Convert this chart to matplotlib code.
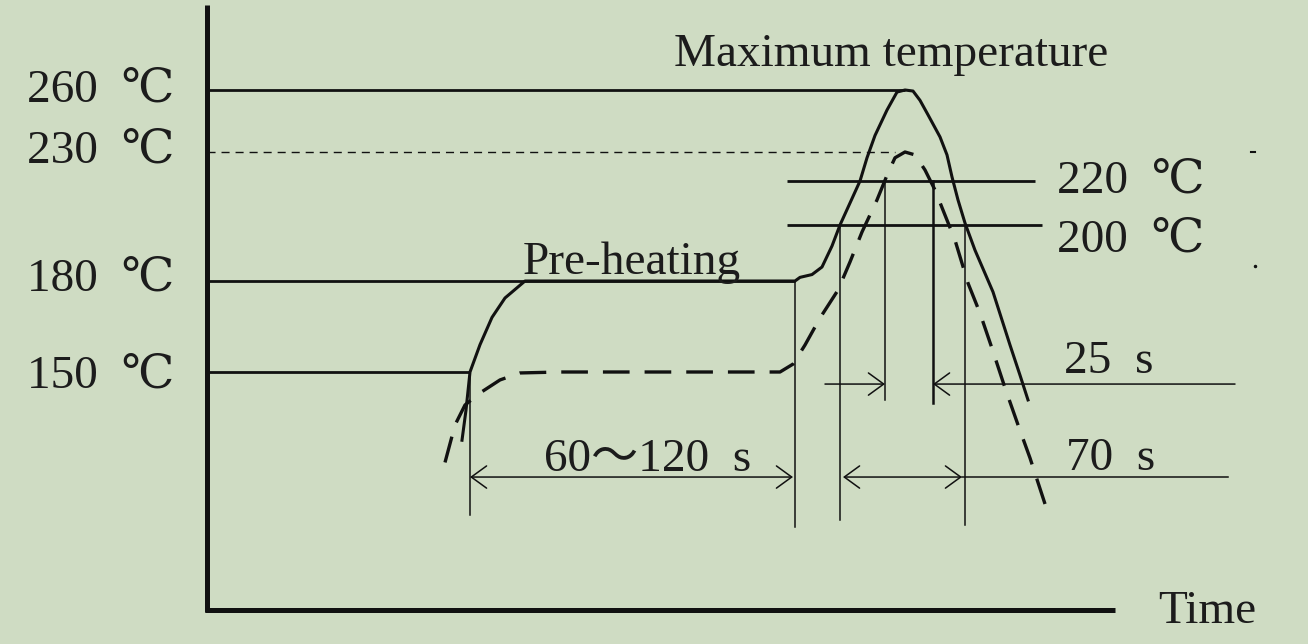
import matplotlib.pyplot as plt
import numpy as np
from matplotlib.patches import FancyArrowPatch
from matplotlib.transforms import offset_copy

# temperature scale of the sketch is not linear: knots (deg C -> image row)
temp_knots = [-30, 0, 150, 180, 200, 220, 230, 260, 320]
row_knots = [657.6, 610, 372, 281, 225, 181, 152, 90, -34]

# upper (solid) profile: time position, temperature
solid_x = [462, 466, 470, 480, 492, 505, 525, 795, 800, 812, 822, 832, 840, 850, 860, 867, 875, 887,
           897, 905, 913, 920, 928, 940, 947, 952, 958, 965, 975, 993, 1010, 1020, 1028]
solid_t = [107, 126, 150, 159, 168, 174.4, 180, 180, 181.3, 182.3, 185, 192.5, 200, 210, 220, 228, 238, 250.3,
           259, 260, 259.5, 255, 248, 237.3, 229, 221.4, 211.4, 200.9, 191, 176.4, 158.9, 148, 132.4]

# lower (dashed) profile
dash_x = [445, 455, 465, 480, 500, 520, 560, 780, 793, 805, 820, 838, 850, 862, 877, 888, 895, 905,
          915, 925, 935, 945, 955, 968, 980, 992, 1005, 1018, 1030, 1047]
dash_t = [93, 116.6, 129.2, 136.8, 145, 149.4, 150, 150, 152.6, 158.9, 167.8, 177, 186.8, 197.5, 211.4, 222.8, 228, 230,
          229, 223.8, 215.9, 204.5, 194.6, 179.3, 169.4, 157.8, 140, 116.7, 95.8, 63]

# reference levels: temperature, x start, x end
levels = [260, 180, 150, 220, 200]
level_x0 = [207, 207, 207, 787, 787]
level_x1 = [905, 795, 470, 1035, 1042]
peak_limit = 230
peak_x = [207, 895]

# vertical markers: x, top temperature, bottom temperature, width
vlines_x = [470, 795, 840, 885, 933, 965]
vlines_top = [150, 180, 200, 220, 220, 200]
vlines_bot = [59.9, 52.3, 56.7, 132.4, 130.5, 53.5]
vlines_lw = [1.1, 1.1, 1.1, 1.1, 1.8, 1.1]

temp_labels = ['260  ℃', '230  ℃', '180  ℃', '150  ℃']
temp_label_t = [262.4, 232.9, 182.3, 150.2]
right_labels = ['220  ℃', '200  ℃']
right_label_t = [221.7, 196.4]

bg = '#cfdcc3'
ink = '#111111'
txt = '#1c1c1c'
fam = ['Liberation Serif', 'DejaVu Serif', 'Noto Sans CJK SC']
fs = 34


def fwd(t):
    return -np.interp(t, temp_knots, row_knots)


def inv(p):
    return np.interp(-np.asarray(p), row_knots[::-1], temp_knots[::-1])


fig = plt.figure(figsize=(13.08, 6.44), dpi=100, facecolor=bg)
ax = fig.add_axes([0, 0, 1, 1])
ax.set_facecolor(bg)
ax.set_yscale('function', functions=(fwd, inv))
ax.set_xlim(0, 1308)
ax.set_ylim(float(inv(-644)), float(inv(0)))
ax.axis('off')

# text box centre sits a bit above the glyphs, push it down a few pixels
tt = offset_copy(ax.transData, fig=fig, y=-5, units='dots')

# axes of the diagram
ax.plot([207, 207], [301, -1.2], color=ink, lw=3.6, solid_capstyle='butt')
ax.plot([205, 1115], [0, 0], color=ink, lw=3.6, solid_capstyle='butt')

for t, a, b in zip(levels, level_x0, level_x1):
    ax.plot([a, b], [t, t], color=ink, lw=2.0, solid_capstyle='butt')
ax.plot(peak_x, [peak_limit, peak_limit], color=ink, lw=1.0, linestyle=(0, (5.8, 4.3)))

for x, a, b, w in zip(vlines_x, vlines_top, vlines_bot, vlines_lw):
    ax.plot([x, x], [a, b], color=ink, lw=w)

ax.plot(solid_x, solid_t, color=ink, lw=2.2)
ax.plot(dash_x, dash_t, color=ink, lw=2.4, linestyle=(0, (8, 4.5)))

# time spans
t25 = 142.4
t70 = 83.8
arrows = [((825, t25), (885, t25), '->'), ((1235, t25), (933, t25), '->'),
          ((843, t70), (962, t70), '<->'), ((470, t70), (793, t70), '<->')]
for p0, p1, st in arrows:
    ax.add_patch(FancyArrowPatch(p0, p1, arrowstyle=st + ',head_length=0.55,head_width=0.4',
                                 mutation_scale=20, lw=1.1, color=ink, shrinkA=0, shrinkB=0))
ax.plot([962, 1228], [t70, t70], color=ink, lw=1.1)

# scan specks at right edge
ax.plot([1251, 1255], [230, 230], color=ink, lw=1.5)
ax.plot([1255], [185.3], marker='o', ms=1.5, color=ink)

for s, t in zip(temp_labels, temp_label_t):
    ax.text(27, t, s, fontsize=fs, family=fam, color=txt, va='center', ha='left', transform=tt)
for s, t in zip(right_labels, right_label_t):
    ax.text(1057, t, s, fontsize=fs, family=fam, color=txt, va='center', ha='left', transform=tt)

ax.text(891, 279.4, 'Maximum temperature', fontsize=fs, family=fam, color=txt, va='center', ha='center', transform=tt)
ax.text(632, 188.2, 'Pre-heating', fontsize=fs, family=fam, color=txt, va='center', ha='center', transform=tt)
ax.text(1064, 154.9, '25  s', fontsize=fs, family=fam, color=txt, va='center', ha='left', transform=tt)
ax.text(1066, 98.3, '70  s', fontsize=fs, family=fam, color=txt, va='center', ha='left', transform=tt)
ax.text(648, 97.7, '60～120  s', fontsize=fs, family=fam, color=txt, va='center', ha='center', transform=tt)
ax.text(1207, 1.9, 'Time', fontsize=fs, family=fam, color=txt, va='center', ha='center', transform=tt)

fig.savefig('out.png', dpi=100, facecolor=bg)
